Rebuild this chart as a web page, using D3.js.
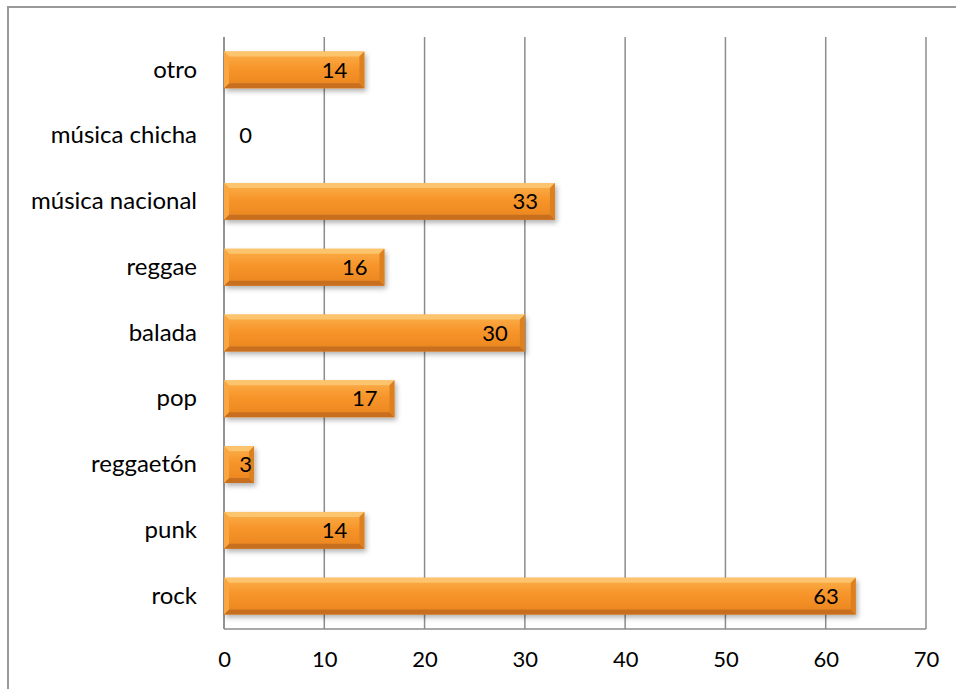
<html>
<head>
<meta charset="utf-8">
<script src="https://d3js.org/d3.v7.min.js"></script>
<style>
  body {margin: 0; background: #fff;}
  text {font-family: Lato, "Open Sans", sans-serif; font-size: 22px; fill: #000;}
</style>
</head>
<body>
<svg width="956" height="689"></svg>
<script>
// chart values
var genres = ["otro", "música chicha", "música nacional", "reggae", "balada", "pop", "reggaetón", "punk", "rock"];
var counts = [14, 0, 33, 16, 30, 17, 3, 14, 63];
var xTicks = [0, 10, 20, 30, 40, 50, 60, 70];

var svg = d3.select("svg");

// outer chart frame (runs off the page at right and bottom)
svg.append("rect").attr("x", 8).attr("y", 7).attr("width", 1000).attr("height", 1000)
   .attr("fill", "none").attr("stroke", "#999").attr("stroke-width", 2);

var plotLeft = 224, plotRight = 926, plotTop = 37, plotBottom = 629;

var x = d3.scaleLinear().domain([0, 70]).range([plotLeft, plotRight]);
var y = d3.scaleBand().domain(genres).range([plotTop, plotBottom]).paddingInner(0.44).paddingOuter(0.22);

var defs = svg.append("defs");
var grad = defs.append("linearGradient").attr("id", "barGrad")
   .attr("x1", 0).attr("y1", 0).attr("x2", 0).attr("y2", 1);
grad.append("stop").attr("offset", "0%").attr("stop-color", "#fbb04c");
grad.append("stop").attr("offset", "45%").attr("stop-color", "#f7952a");
grad.append("stop").attr("offset", "100%").attr("stop-color", "#e9841f");

var shadow = defs.append("filter").attr("id", "shadow")
   .attr("x", "-10%").attr("y", "-30%").attr("width", "130%").attr("height", "180%");
shadow.append("feDropShadow").attr("dx", 2).attr("dy", 3).attr("stdDeviation", 2.5)
   .attr("flood-color", "#000").attr("flood-opacity", 0.3);

// vertical gridlines
svg.append("g").selectAll("line").data(xTicks).enter().append("line")
   .attr("x1", d => x(d)).attr("x2", d => x(d))
   .attr("y1", plotTop).attr("y2", plotBottom)
   .attr("stroke", "#8c8c8c").attr("stroke-width", 1.5);

// axes lines
svg.append("line").attr("x1", plotLeft).attr("x2", plotRight).attr("y1", plotBottom).attr("y2", plotBottom)
   .attr("stroke", "#8c8c8c").attr("stroke-width", 1.5);

var xAxis = d3.axisBottom(x).tickValues(xTicks).tickSize(0).tickPadding(22);
var gx = svg.append("g").attr("transform", "translate(0," + plotBottom + ")").call(xAxis);
gx.select(".domain").remove();
gx.selectAll("text").style("font-size", "22px").style("font-family", "Lato, 'Open Sans', sans-serif").attr("fill", "#000");

var yAxis = d3.axisLeft(y).tickSize(0).tickPadding(27);
var gy = svg.append("g").attr("transform", "translate(" + plotLeft + ",0)").call(yAxis);
gy.select(".domain").remove();
gy.selectAll("text").style("font-size", "24px").style("font-family", "Lato, 'Open Sans', sans-serif").attr("fill", "#000");

svg.append("line").attr("x1", plotLeft).attr("x2", plotLeft).attr("y1", plotTop).attr("y2", plotBottom)
   .attr("stroke", "#8c8c8c").attr("stroke-width", 1.5);

// bevelled bars
var b = 5;
var rows = genres.map((g, i) => ({genre: g, value: counts[i]}));
var bars = svg.append("g").selectAll("g").data(rows.filter(d => d.value > 0)).enter().append("g");

bars.append("rect")
   .attr("x", x(0)).attr("y", d => y(d.genre))
   .attr("width", d => x(d.value) - x(0)).attr("height", y.bandwidth())
   .attr("fill", "url(#barGrad)").attr("filter", "url(#shadow)");

function facet(d, side) {
  var x0 = x(0), x1 = x(d.value), y0 = y(d.genre), y1 = y0 + y.bandwidth();
  var bb = Math.min(b, (x1 - x0) / 2);
  if (side == "top") return [[x0, y0], [x1, y0], [x1 - bb, y0 + b], [x0 + bb, y0 + b]];
  if (side == "bottom") return [[x0, y1], [x1, y1], [x1 - bb, y1 - b], [x0 + bb, y1 - b]];
  if (side == "right") return [[x1, y0], [x1, y1], [x1 - bb, y1 - b], [x1 - bb, y0 + b]];
  return [[x0, y0], [x0, y1], [x0 + bb, y1 - b], [x0 + bb, y0 + b]];
}
var facetColors = {top: "#fcc46c", bottom: "#c76f1f", right: "#dd8020", left: "#f9a640"};
["top", "bottom", "right", "left"].forEach(function(side) {
  bars.append("polygon")
     .attr("points", d => facet(d, side).map(p => p.join(",")).join(" "))
     .attr("fill", facetColors[side]);
});

// value labels
svg.append("g").selectAll("text").data(rows).enter().append("text")
   .attr("x", d => Math.max(x(d.value) - 17, x(0) + 28))
   .attr("y", d => y(d.genre) + y.bandwidth() / 2)
   .attr("dy", "0.35em")
   .attr("text-anchor", "end")
   .text(d => d.value);
</script>
</body>
</html>
